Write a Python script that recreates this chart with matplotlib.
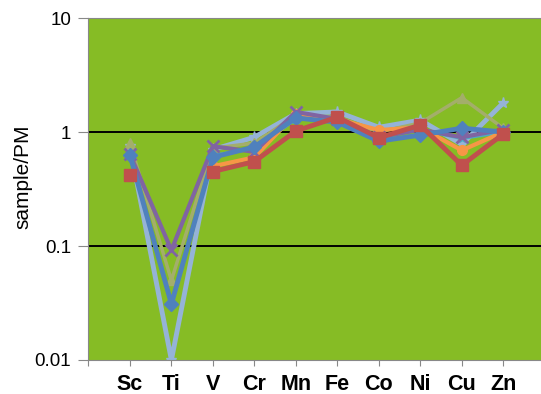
import numpy as np
import matplotlib.pyplot as plt

plt.rcParams['font.family'] = ['Liberation Sans', 'DejaVu Sans']

# data
elements = ['Sc', 'Ti', 'V', 'Cr', 'Mn', 'Fe', 'Co', 'Ni', 'Cu', 'Zn']
nan = np.nan
light_blue = [0.75, 0.01, 0.7, 0.9, 1.45, 1.5, 1.1, 1.27, 0.78, 1.8]
olive = [0.8, 0.05, 0.72, 0.8, 1.4, 1.35, 1.0, 1.2, 2.0, 1.08]
teal = [nan, nan, 0.62, 0.72, 1.3, 1.3, 0.9, 1.05, 0.88, 1.0]
orange = [nan, nan, 0.5, 0.6, 1.45, 1.3, 1.04, 1.1, 0.69, 1.0]
purple = [0.64, 0.092, 0.75, 0.67, 1.5, 1.3, 0.9, 1.05, 0.9, 1.05]
blue = [0.63, 0.031, 0.6, 0.74, 1.33, 1.22, 0.83, 0.94, 1.08, 1.0]
red = [0.42, nan, 0.45, 0.55, 1.02, 1.35, 0.89, 1.15, 0.51, 0.96]

x = np.arange(len(elements))

fig = plt.figure(figsize=(5.41, 3.94), dpi=100)
ax = fig.add_axes([0.1627, 0.0863, 0.8373, 0.8680])
ax.set_facecolor('#86BC25')

ax.axhline(1, color='black', lw=1.4, zorder=1)
ax.axhline(0.1, color='black', lw=1.4, zorder=1)

ax.plot(x, light_blue, color='#95B3D7', lw=3.5, marker='*', ms=8, zorder=2)
ax.plot(x, olive, color='#A3AE6A', lw=2.5, marker='^', ms=7, zorder=2)
ax.plot(x, teal, color='#4BACC6', lw=2.5, marker='*', ms=7, zorder=3)
ax.plot(x, orange, color='#F79646', lw=3, marker='o', ms=7, zorder=3)
ax.plot(x, purple, color='#8064A2', lw=3, marker='x', ms=8, mew=2, zorder=4)
ax.plot(x, blue, color='#4F81BD', lw=3.5, marker='D', ms=7, zorder=5)
ax.plot(x, red, color='#C0504D', lw=3.5, marker='s', ms=9, zorder=6)

ax.set_yscale('log')
ax.set_ylim(0.01, 10)
ax.set_xlim(-1.01, 9.91)
ax.set_yticks([0.01, 0.1, 1, 10])
ax.set_yticklabels(['0.01', '0.1', '1', '10'], fontsize=13.5)
ax.minorticks_off()
ax.set_xticks(np.arange(-1, len(elements)))
ax.set_xticklabels([''] + elements, fontsize=15.5, fontweight='bold')
ax.tick_params(axis='x', length=4.5, color='#888888', pad=5.5)
ax.tick_params(axis='y', length=7, color='#888888', pad=5)
for t in ax.yaxis.get_major_ticks()[1:3]:
    t.tick1line.set_color('black')
ax.set_ylabel('sample/PM', fontsize=15)
ax.yaxis.set_label_coords(-0.122, 0.537)

for side in ['left', 'bottom', 'top']:
    ax.spines[side].set_color('#888888')
ax.spines['right'].set_visible(False)

plt.savefig('out.png', dpi=100)
